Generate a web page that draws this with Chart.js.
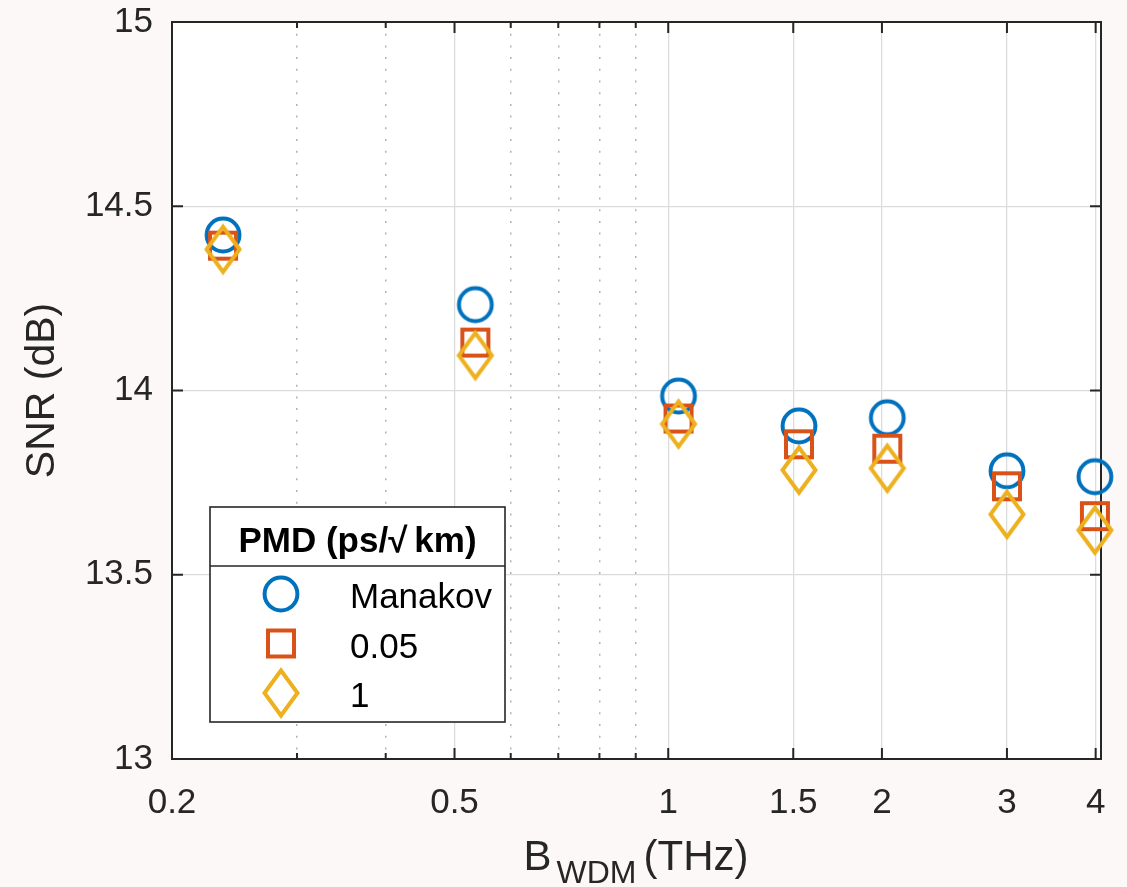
<!DOCTYPE html>
<html>
<head>
<meta charset="utf-8">
<title>SNR vs B_WDM</title>
<script src="https://cdn.jsdelivr.net/npm/chart.js@4.4.0/dist/chart.umd.min.js"></script>
<style>
  html, body { margin: 0; padding: 0; background: #fcf8f7; }
</style>
</head>
<body>
<canvas id="myChart" width="1127" height="887"></canvas>
<script>
// data
const bandwidthTHz = [0.236, 0.535, 1.034, 1.528, 2.035, 3.0, 3.99];
const snrManakov   = [14.422, 14.233, 13.985, 13.904, 13.926, 13.782, 13.766];
const snrPmd005    = [14.393, 14.130, 13.924, 13.854, 13.842, 13.740, 13.659];
const snrPmd1      = [14.383, 14.095, 13.909, 13.784, 13.789, 13.664, 13.621];
const seriesNames  = ['Manakov', '0.05', '1'];
const legendTitle  = 'PMD (ps/\u221A\u2009km)';

const majorTicksX = [0.2, 0.5, 1, 1.5, 2, 3, 4];
const minorTicksX = [0.3, 0.4, 0.6, 0.7, 0.8, 0.9];
const ticksY      = [13, 13.5, 14, 14.5, 15];

const FONT = '"Liberation Sans", Arial, Helvetica, sans-serif';
const INK = '#262626';

// marker images, matlab style
function makeMarker(kind, color) {
  const c = document.createElement('canvas');
  c.width = 48; c.height = 60;
  const g = c.getContext('2d');
  const cx = 24, cy = 30;
  g.strokeStyle = color;
  g.lineWidth = 4;
  g.lineJoin = 'miter';
  g.beginPath();
  if (kind == 'circle') {
    g.arc(cx, cy, 16.4, 0, Math.PI * 2);
  } else if (kind == 'square') {
    g.rect(cx - 13, cy - 13, 26, 26);
  } else {
    g.moveTo(cx, cy - 22.5);
    g.lineTo(cx + 16.5, cy);
    g.lineTo(cx, cy + 22.5);
    g.lineTo(cx - 16.5, cy);
    g.closePath();
  }
  g.stroke();
  return c;
}

function pts(ys) {
  return ys.map((y, i) => ({ x: bandwidthTHz[i], y: y }));
}

const isMinor = v => minorTicksX.includes(v);

// background + white plot area
const paper = {
  id: 'paper',
  beforeDraw(chart) {
    const { ctx, chartArea: a } = chart;
    ctx.save();
    ctx.fillStyle = '#fcf8f7';
    ctx.fillRect(0, 0, chart.width, chart.height);
    ctx.fillStyle = '#ffffff';
    ctx.fillRect(a.left, a.top, a.right - a.left, a.bottom - a.top);
    ctx.restore();
  }
};

// box and inward ticks
const axesBox = {
  id: 'axesBox',
  beforeDatasetsDraw(chart) {
    const { ctx, chartArea: a, scales } = chart;
    ctx.save();
    ctx.strokeStyle = INK;
    ctx.lineWidth = 2;
    ctx.strokeRect(a.left, a.top, a.right - a.left, a.bottom - a.top);
    ctx.beginPath();
    majorTicksX.concat(minorTicksX).forEach(v => {
      const px = scales.x.getPixelForValue(v);
      const len = isMinor(v) ? 6 : 11;
      ctx.moveTo(px, a.bottom); ctx.lineTo(px, a.bottom - len);
      ctx.moveTo(px, a.top); ctx.lineTo(px, a.top + len);
    });
    ticksY.forEach(v => {
      const py = scales.y.getPixelForValue(v);
      ctx.moveTo(a.left, py); ctx.lineTo(a.left + 11, py);
      ctx.moveTo(a.right, py); ctx.lineTo(a.right - 11, py);
    });
    ctx.stroke();
    ctx.restore();
  }
};

// x label with subscript
const xLabel = {
  id: 'xLabel',
  afterDraw(chart) {
    const ctx = chart.ctx;
    const big = '42px ' + FONT, small = '32px ' + FONT;
    ctx.save();
    ctx.fillStyle = INK;
    ctx.textBaseline = 'alphabetic';
    ctx.font = big;
    const wB = ctx.measureText('B').width;
    const wT = ctx.measureText('(THz)').width;
    ctx.font = small;
    const wS = ctx.measureText('WDM').width;
    const gap1 = 5, gap2 = 7;
    const total = wB + gap1 + wS + gap2 + wT;
    let x = 636 - total / 2;
    ctx.textAlign = 'left';
    ctx.font = big;
    ctx.fillText('B', x, 870);
    x += wB + gap1;
    ctx.font = small;
    ctx.fillText('WDM', x, 883);
    x += wS + gap2;
    ctx.font = big;
    ctx.fillText('(THz)', x, 870);
    ctx.restore();
  }
};

// boxed legend with a title row
const boxLegend = {
  id: 'boxLegend',
  afterDraw(chart) {
    const ctx = chart.ctx;
    const x0 = 210, y0 = 507, w = 295, h = 215, titleH = 59;
    ctx.save();
    ctx.fillStyle = '#ffffff';
    ctx.fillRect(x0, y0, w, h);
    ctx.strokeStyle = INK;
    ctx.lineWidth = 1.6;
    ctx.strokeRect(x0, y0, w, h);
    ctx.beginPath();
    ctx.moveTo(x0, y0 + titleH); ctx.lineTo(x0 + w, y0 + titleH);
    ctx.stroke();

    ctx.fillStyle = '#000';
    ctx.font = 'bold 35px ' + FONT;
    ctx.textAlign = 'center';
    ctx.textBaseline = 'alphabetic';
    ctx.fillText(legendTitle, x0 + w / 2, y0 + 45);

    ctx.font = '35px ' + FONT;
    ctx.textAlign = 'left';
    chart.data.datasets.forEach((ds, i) => {
      const cy = 594 + 49.5 * i;
      const img = ds.pointStyle;
      ctx.drawImage(img, 281 - img.width / 2, cy - img.height / 2);
      ctx.fillText(ds.label, 350, cy + 14);
    });
    ctx.restore();
  }
};

const ctx = document.getElementById('myChart').getContext('2d');
const chart = new Chart(ctx, {
  type: 'scatter',
  data: {
    datasets: [{
      label: seriesNames[0],
      data: pts(snrManakov),
      pointStyle: makeMarker('circle', '#0072BD'),
      order: 3
    }, {
      label: seriesNames[1],
      data: pts(snrPmd005),
      pointStyle: makeMarker('square', '#D95319'),
      order: 2
    }, {
      label: seriesNames[2],
      data: pts(snrPmd1),
      pointStyle: makeMarker('diamond', '#EDB120'),
      order: 1
    }]
  },
  options: {
    responsive: false,
    animation: false,
    devicePixelRatio: 1,
    clip: false,
    layout: { padding: { top: 22, right: 26, left: 0, bottom: 0 } },
    plugins: {
      legend: { display: false },
      tooltip: { enabled: false }
    },
    scales: {
      x: {
        type: 'logarithmic',
        min: 0.2,
        max: 4.07,
        afterBuildTicks: s => {
          s.ticks = majorTicksX.concat(minorTicksX).sort((a, b) => a - b)
            .map(v => ({ value: v }));
        },
        afterFit: s => { s.height = 128; s.paddingLeft = 0; s.paddingRight = 0; },
        ticks: {
          autoSkip: false,
          maxRotation: 0,
          padding: 23,
          color: INK,
          font: { family: FONT, size: 35 },
          callback: v => isMinor(v) ? '' : String(v)
        },
        grid: {
          drawTicks: false,
          color: c => (c.tick && isMinor(c.tick.value)) ? '#b2b2b2' : '#dcdcdc',
          lineWidth: c => (c.tick && isMinor(c.tick.value)) ? 1.5 : 1.3
        },
        border: {
          display: false,
          dash: c => (c.tick && isMinor(c.tick.value)) ? [2, 9.7] : []
        }
      },
      y: {
        min: 13,
        max: 15,
        afterBuildTicks: s => { s.ticks = ticksY.map(v => ({ value: v })); },
        afterFit: s => { s.width = 172; s.paddingTop = 0; s.paddingBottom = 0; },
        ticks: {
          padding: 19,
          color: INK,
          font: { family: FONT, size: 35 },
          callback: v => String(v)
        },
        grid: { drawTicks: false, color: '#dcdcdc', lineWidth: 1.3 },
        border: { display: false },
        title: {
          display: true,
          text: 'SNR (dB)',
          color: INK,
          font: { family: FONT, size: 41 },
          padding: { top: 18, bottom: 0 }
        }
      }
    }
  },
  plugins: [paper, axesBox, xLabel, boxLegend]
});
</script>
</body>
</html>
